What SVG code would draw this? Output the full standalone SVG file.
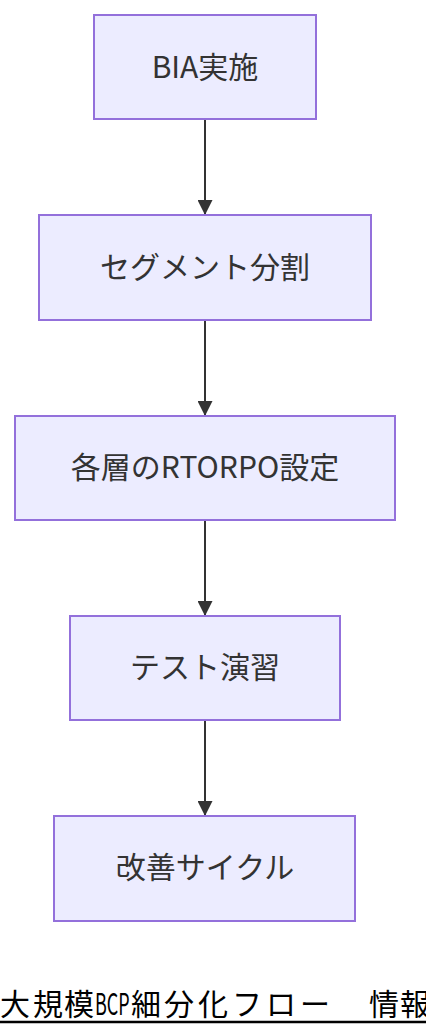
<svg xmlns="http://www.w3.org/2000/svg" width="426" height="1036" viewBox="0 0 426 1036">
<style>
.node rect{fill:#ECECFF;stroke:#9370DB;stroke-width:2}
.node text{font-family:"Noto Sans CJK JP","Noto Sans",sans-serif;font-size:30px;fill:#333;text-anchor:middle;dominant-baseline:central}
.edge{stroke:#333;stroke-width:2;fill:none}
.title{font-family:"Noto Sans CJK JP","Noto Sans",sans-serif;font-size:30px;fill:#000}
</style>
<defs>
<marker id="arrow" viewBox="0 0 10 10" refX="10" refY="5" markerWidth="15" markerHeight="15" markerUnits="userSpaceOnUse" orient="auto">
<path d="M0,0 L10,5 L0,10 z" fill="#333"/>
</marker>
</defs>
<rect width="426" height="1036" fill="#fff"/>
<g id="connectors">
<line class="edge" x1="205" y1="119" x2="205" y2="215" marker-end="url(#arrow)"/>
<line class="edge" x1="205" y1="320" x2="205" y2="416" marker-end="url(#arrow)"/>
<line class="edge" x1="205" y1="520" x2="205" y2="616" marker-end="url(#arrow)"/>
<line class="edge" x1="205" y1="720" x2="205" y2="816" marker-end="url(#arrow)"/>
</g>
<g id="n1" class="node"><rect x="94" y="15" width="222" height="104"/><text x="205" y="65">BIA実施</text></g>
<g id="n2" class="node"><rect x="39" y="215" width="332" height="105"/><text x="205" y="265">セグメント分割</text></g>
<g id="n3" class="node"><rect x="15" y="416" width="380" height="104"/><text x="205" y="465">各層のRTORPO設定</text></g>
<g id="n4" class="node"><rect x="70" y="616" width="270" height="104"/><text x="205" y="665">テスト演習</text></g>
<g id="n5" class="node"><rect x="54" y="816" width="301" height="105"/><text x="205" y="865">改善サイクル</text></g>
<g id="title">
<text class="title" x="0 33 64" y="1015">大規模</text>
<text class="title" transform="translate(95 1015) scale(0.6 1)" x="0" y="0">BCP</text>
<text class="title" x="131 164 198 232 266 300" y="1015">細分化フロー</text>
<text class="title" x="369 400" y="1015">情報</text>
<line x1="0" y1="1022" x2="426" y2="1022" stroke="#000" stroke-width="2.5"/>
</g>
</svg>
